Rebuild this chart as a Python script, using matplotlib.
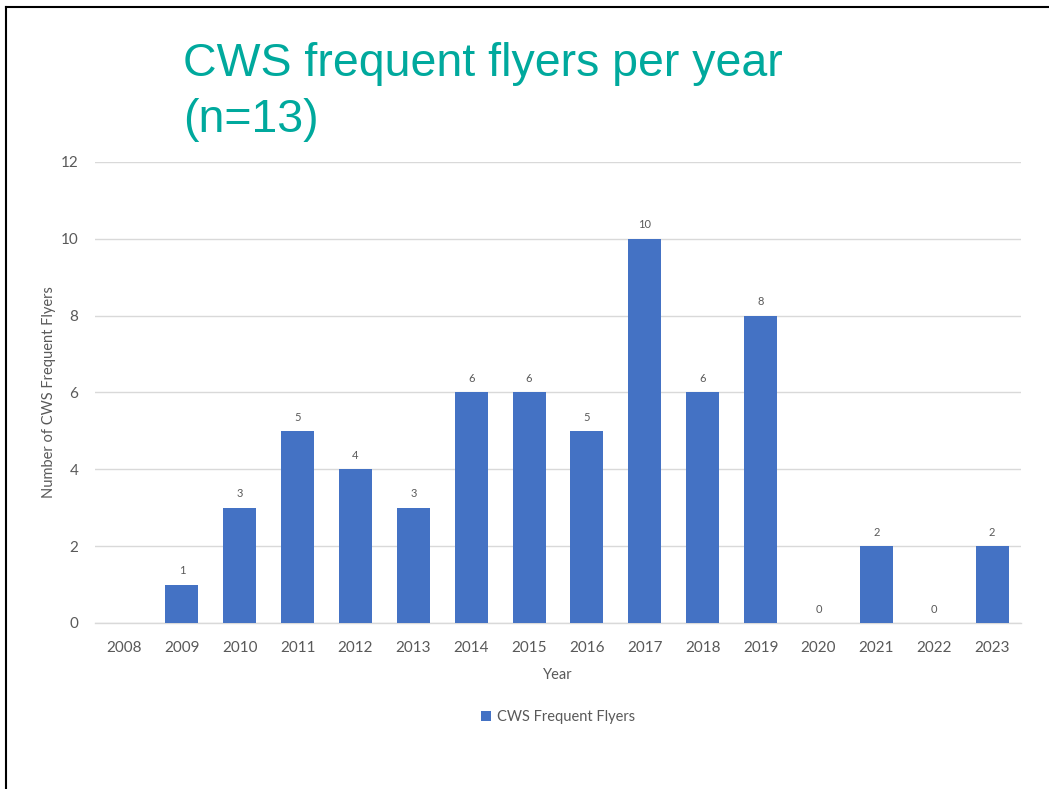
import matplotlib
matplotlib.use("Agg")
import matplotlib.pyplot as plt
import numpy as np

years = ["2008", "2009", "2010", "2011", "2012", "2013", "2014", "2015",
         "2016", "2017", "2018", "2019", "2020", "2021", "2022", "2023"]
counts = [np.nan, 1, 3, 5, 4, 3, 6, 6, 5, 10, 6, 8, 0, 2, 0, 2]
y_ticks = [0, 2, 4, 6, 8, 10, 12]

BAR_COLOR = "#4472C4"
TEXT_GRAY = "#595959"
GRID_GRAY = "#D9D9D9"
TITLE_COLOR = "#00A99D"

plt.rcParams["font.family"] = ["Lato", "DejaVu Sans"]

fig = plt.figure(figsize=(10.49, 7.89), dpi=100)
ax = fig.add_axes([0.0906, 0.2104, 0.8827, 0.5843])

x = np.arange(len(years))
vals = np.array(counts, dtype=float)
ax.bar(x, np.nan_to_num(vals), width=0.57, color=BAR_COLOR,
       label="CWS Frequent Flyers", zorder=3)
for xi, v in zip(x, vals):
    if np.isnan(v):
        continue
    ax.annotate(f"{int(v)}", (xi, v), xytext=(0, 6), textcoords="offset points",
                ha="center", va="bottom", fontsize=8, color=TEXT_GRAY)

ax.set_xlim(-0.5, len(years) - 0.5)
ax.set_ylim(0, 12)
ax.set_yticks(y_ticks)
ax.set_xticks(x)
ax.set_xticklabels(years)
ax.grid(axis="y", color=GRID_GRAY, linewidth=1, zorder=0)
for side in ["top", "right", "left"]:
    ax.spines[side].set_visible(False)
ax.spines["bottom"].set_color(GRID_GRAY)
ax.spines["bottom"].set_linewidth(1)
ax.tick_params(axis="both", length=0, labelsize=11, colors=TEXT_GRAY)
ax.tick_params(axis="x", pad=13)
ax.tick_params(axis="y", pad=12)
ax.set_xlabel("Year", fontsize=10.5, color=TEXT_GRAY, labelpad=9)
ax.set_ylabel("Number of CWS Frequent Flyers", fontsize=10.5, color=TEXT_GRAY, labelpad=3)

ax.legend(loc="upper center", bbox_to_anchor=(0.5, -0.16), frameon=False,
          fontsize=10.5, handlelength=0.7, handleheight=0.7, handletextpad=0.4,
          labelcolor=TEXT_GRAY)

# title: baseline given for the last line
fig.text(0.1745, 0.8327, "CWS frequent flyers per year\n(n=13)", fontsize=33.5,
         color=TITLE_COLOR, family=["Liberation Sans", "DejaVu Sans"],
         ha="left", va="baseline", linespacing=1.36)

# slide border: top and left edges only
fig.add_artist(plt.Line2D([0.0057, 0.0057], [0, 0.991], color="black", linewidth=1.5,
                          transform=fig.transFigure))
fig.add_artist(plt.Line2D([0.0057, 1], [0.991, 0.991], color="black", linewidth=1.5,
                          transform=fig.transFigure))

fig.savefig("out.png", dpi=100, facecolor="white")
